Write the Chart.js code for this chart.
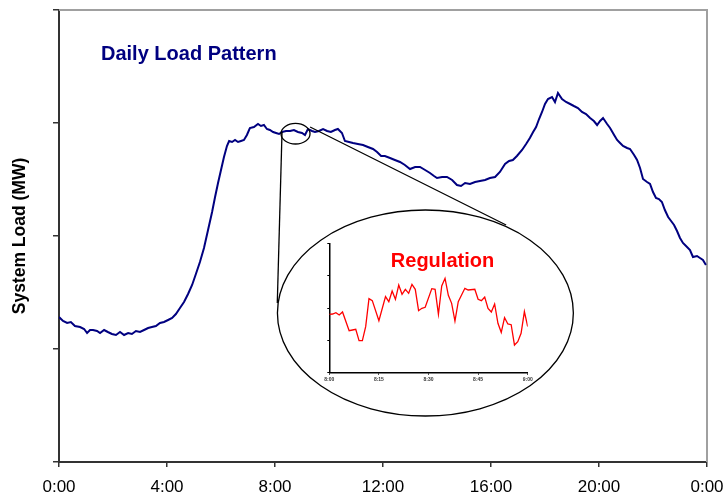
<!DOCTYPE html>
<html>
<head>
<meta charset="utf-8">
<script src="https://cdn.jsdelivr.net/npm/chart.js@4"></script>
<style>
  body { margin: 0; background: #fff; }
  #wrap { position: relative; width: 724px; height: 502px; }
  #main { position: absolute; left: 0; top: 0; }
  #zoom { position: absolute; left: 310px; top: 235px; }
</style>
</head>
<body>
<div id="wrap">
  <canvas id="main" width="724" height="502"></canvas>
  <canvas id="zoom" width="230" height="160"></canvas>
</div>
<script>
// daily load (hours of day, MW)
const loadHours = [
  0.00, 0.15, 0.30, 0.44, 0.59, 0.78, 0.93, 1.04, 1.15, 1.26,
  1.41, 1.52, 1.67, 1.81, 1.96, 2.11, 2.26, 2.41, 2.56, 2.70,
  2.85, 3.00, 3.15, 3.30, 3.44, 3.59, 3.74, 3.89, 4.04, 4.19,
  4.33, 4.48, 4.63, 4.78, 4.93, 5.07, 5.22, 5.37, 5.52, 5.67,
  5.78, 5.89, 6.00, 6.11, 6.22, 6.30, 6.41, 6.52, 6.63, 6.74,
  6.85, 6.96, 7.07, 7.22, 7.37, 7.48, 7.59, 7.70, 7.81, 7.93,
  8.04, 8.15, 8.26, 8.41, 8.56, 8.70, 8.85, 9.00, 9.11, 9.22,
  9.37, 9.48, 9.63, 9.78, 9.93, 10.07, 10.22, 10.33, 10.48, 10.59,
  10.74, 10.89, 11.07, 11.26, 11.44, 11.63, 11.78, 11.93, 12.07, 12.26,
  12.44, 12.63, 12.81, 13.00, 13.19, 13.37, 13.56, 13.74, 13.89, 14.00,
  14.19, 14.37, 14.56, 14.74, 14.89, 15.04, 15.22, 15.41, 15.59, 15.78,
  15.96, 16.15, 16.33, 16.52, 16.67, 16.81, 16.96, 17.15, 17.30, 17.44,
  17.56, 17.67, 17.78, 17.89, 18.00, 18.11, 18.26, 18.37, 18.48, 18.63,
  18.78, 18.93, 19.07, 19.22, 19.37, 19.52, 19.67, 19.81, 19.93, 20.04,
  20.15, 20.30, 20.41, 20.56, 20.67, 20.78, 20.89, 21.04, 21.15, 21.30,
  21.41, 21.52, 21.63, 21.78, 21.89, 22.00, 22.11, 22.22, 22.33, 22.44,
  22.56, 22.67, 22.78, 22.89, 23.00, 23.11, 23.26, 23.37, 23.48, 23.63,
  23.74, 23.85, 23.96
];
const loadMW = [
  1450, 1410, 1390, 1400, 1360, 1350, 1330, 1290, 1320, 1320,
  1310, 1290, 1320, 1300, 1280, 1270, 1300, 1270, 1290, 1280,
  1310, 1300, 1320, 1340, 1350, 1360, 1390, 1400, 1420, 1440,
  1480, 1540, 1600, 1680, 1770, 1880, 2000, 2140, 2320, 2500,
  2650, 2790, 2920, 3050, 3160, 3210, 3200, 3220, 3200, 3210,
  3220, 3270, 3340, 3350, 3380, 3360, 3370, 3330, 3320, 3300,
  3290, 3280, 3300, 3310, 3310, 3320, 3300, 3290, 3270, 3330,
  3310, 3300, 3310, 3330, 3310, 3300, 3320, 3330, 3290, 3210,
  3200, 3190, 3180, 3170, 3150, 3130, 3100, 3060, 3060, 3040,
  3020, 3000, 2970, 2930, 2950, 2950, 2920, 2890, 2860, 2840,
  2850, 2850, 2820, 2770, 2760, 2790, 2780, 2800, 2810, 2820,
  2840, 2850, 2900, 2980, 3010, 3020, 3060, 3120, 3180, 3240,
  3300, 3350, 3430, 3500, 3580, 3630, 3650, 3600, 3690, 3630,
  3600, 3580, 3560, 3540, 3500, 3480, 3440, 3410, 3370, 3410,
  3440, 3380, 3340, 3270, 3220, 3190, 3160, 3140, 3130, 3070,
  3020, 2940, 2830, 2800, 2780, 2700, 2640, 2630, 2600, 2520,
  2450, 2410, 2370, 2310, 2240, 2190, 2150, 2120, 2050, 2060,
  2040, 2020, 1970
];
const hourLabels = ['0:00', '4:00', '8:00', '12:00', '16:00', '20:00', '0:00'];

// regulation detail, 8:00 - 9:00 (minutes after 8:00)
const regMinutes = [
  0, 1, 2, 3, 4, 6, 7, 8, 9, 10, 11, 12, 13, 15, 17, 18, 19, 20, 21, 22,
  23, 24, 25, 26, 27, 28, 29, 31, 32, 33, 34, 35, 36, 37, 38, 39, 41, 42, 44, 45,
  46, 47, 48, 49, 50, 51, 52, 53, 54, 55, 56, 57, 58, 59, 60
];
const regValues = [
  175, 176, 180, 173, 182, 126, 128, 130, 96, 96, 138, 222, 216, 156, 228, 213, 245, 220, 263, 235,
  250, 238, 265, 250, 186, 193, 196, 252, 250, 175, 260, 283, 232, 208, 155, 213, 253, 248, 250, 220,
  216, 227, 193, 182, 206, 148, 121, 165, 146, 144, 83, 93, 118, 183, 138
];
const regLabels = ['8:00', '8:15', '8:30', '8:45', '9:00'];

// magnifier: small ring on the curve, big ring holding the inset, two connectors
const ringSmall = { h: 8.76, mw: 3283, rh: 0.537, rmw: 103 };
const ringBig = { h: 13.57, mw: 1490, rh: 5.48, rmw: 1030 };
const connectors = [
  [[8.26, 3300], [8.085, 1590]],
  [[9.30, 3350], [16.56, 2370]]
];

const decor = {
  id: 'decor',
  beforeDatasetsDraw(chart) {
    const { ctx, chartArea: a } = chart;
    ctx.save();
    ctx.strokeStyle = '#a0a0a0';
    ctx.lineWidth = 2;
    ctx.beginPath();
    ctx.moveTo(a.left, a.top);
    ctx.lineTo(a.right, a.top);
    ctx.lineTo(a.right, a.bottom);
    ctx.stroke();
    ctx.restore();
  },
  afterDatasetsDraw(chart) {
    const { ctx, scales: { x, y } } = chart;
    ctx.save();
    ctx.strokeStyle = '#000';
    ctx.lineWidth = 1.3;
    [ringSmall, ringBig].forEach(r => {
      const cx = x.getPixelForValue(r.h), cy = y.getPixelForValue(r.mw);
      const rx = x.getPixelForValue(r.h + r.rh) - cx;
      const ry = cy - y.getPixelForValue(r.mw + r.rmw);
      ctx.beginPath();
      ctx.ellipse(cx, cy, rx, ry, 0, 0, Math.PI * 2);
      ctx.stroke();
    });
    connectors.forEach(([p, q]) => {
      ctx.beginPath();
      ctx.moveTo(x.getPixelForValue(p[0]), y.getPixelForValue(p[1]));
      ctx.lineTo(x.getPixelForValue(q[0]), y.getPixelForValue(q[1]));
      ctx.stroke();
    });
    ctx.fillStyle = '#000080';
    ctx.font = 'bold 20px "Liberation Sans", Arial, sans-serif';
    ctx.textBaseline = 'alphabetic';
    ctx.fillText('Daily Load Pattern', 101, 60);
    ctx.restore();
  }
};

new Chart(document.getElementById('main'), {
  type: 'line',
  data: {
    datasets: [{
      data: loadHours.map((h, i) => ({ x: h, y: loadMW[i] })),
      borderColor: '#000080',
      borderWidth: 2,
      pointRadius: 0,
      tension: 0,
      fill: false
    }]
  },
  options: {
    responsive: false,
    animation: false,
    layout: { padding: { top: 10, right: 17, left: 0, bottom: 0 } },
    plugins: { legend: { display: false }, tooltip: { enabled: false } },
    scales: {
      x: {
        type: 'linear',
        min: 0,
        max: 24,
        afterFit: s => { s.height = 40; s.paddingLeft = 0; s.paddingRight = 0; },
        ticks: {
          stepSize: 4,
          padding: 10,
          color: '#000',
          font: { family: '"Liberation Sans", Arial, sans-serif', size: 17 },
          callback: v => hourLabels[v / 4]
        },
        grid: { drawOnChartArea: false, drawTicks: true, tickLength: 5, color: '#333', lineWidth: 1.5 },
        border: { color: '#333', width: 2 }
      },
      y: {
        min: 0,
        max: 4520,
        afterFit: s => { s.width = 59; s.paddingTop = 0; s.paddingBottom = 0; },
        ticks: { stepSize: 1130, display: false },
        grid: { drawOnChartArea: false, drawTicks: true, tickLength: 6, color: '#333', lineWidth: 1.5 },
        border: { color: '#333', width: 2 },
        title: {
          display: true,
          text: 'System Load (MW)',
          color: '#000',
          padding: { top: 10, bottom: 0 },
          font: { family: '"Liberation Sans", Arial, sans-serif', size: 17.5, weight: 'bold' }
        }
      }
    }
  },
  plugins: [decor]
});

const regTitle = {
  id: 'regTitle',
  afterDraw(chart) {
    const { ctx } = chart;
    ctx.save();
    ctx.fillStyle = '#ff0000';
    ctx.font = 'bold 20px "Liberation Sans", Arial, sans-serif';
    ctx.textAlign = 'center';
    ctx.textBaseline = 'alphabetic';
    ctx.fillText('Regulation', 442.5 - 310, 267 - 235);
    ctx.restore();
  }
};

new Chart(document.getElementById('zoom'), {
  type: 'line',
  data: {
    datasets: [{
      data: regMinutes.map((m, i) => ({ x: m, y: regValues[i] })),
      borderColor: '#ff0000',
      borderWidth: 1.3,
      pointRadius: 0,
      tension: 0,
      fill: false
    }]
  },
  options: {
    responsive: false,
    animation: false,
    layout: { padding: { top: 8.3, right: 12.3, left: 0, bottom: 0 } },
    plugins: { legend: { display: false }, tooltip: { enabled: false } },
    scales: {
      x: {
        type: 'linear',
        min: 0,
        max: 60,
        afterFit: s => { s.height = 22.3; s.paddingLeft = 0; s.paddingRight = 0; },
        ticks: {
          stepSize: 15,
          padding: 2,
          color: '#333',
          font: { family: '"Liberation Sans", Arial, sans-serif', size: 5, weight: 'bold' },
          callback: v => regLabels[v / 15]
        },
        grid: { drawOnChartArea: false, drawTicks: true, tickLength: 2, color: '#000', lineWidth: 1 },
        border: { color: '#000', width: 1.5 }
      },
      y: {
        min: 0,
        max: 388,
        afterFit: s => { s.width = 19.3; },
        ticks: { stepSize: 97, display: false },
        grid: { drawOnChartArea: false, drawTicks: true, tickLength: 2, color: '#000', lineWidth: 1 },
        border: { color: '#000', width: 1.5 }
      }
    }
  },
  plugins: [regTitle]
});
</script>
</body>
</html>
